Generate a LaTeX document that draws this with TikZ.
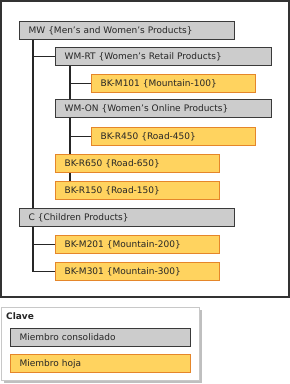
\documentclass[tikz,border=0pt]{standalone}
\usepackage{fontspec}
\setmainfont{DejaVu Sans}
\usetikzlibrary{backgrounds}
\definecolor{consfill}{HTML}{CCCCCC}
\definecolor{consdraw}{HTML}{3A3A3A}
\definecolor{leaffill}{HTML}{FFD35F}
\definecolor{leafdraw}{HTML}{E5862A}
\definecolor{frame}{HTML}{333333}
\definecolor{legdraw}{HTML}{C8C8C8}
\begin{document}
\begin{tikzpicture}[x=1pt,y=-1pt,
  every node/.style={font=\fontsize{9pt}{10pt}\selectfont, text=black!85},
  cons/.style={draw=consdraw, fill=consfill, line width=1.2pt, anchor=north west,
    minimum height=18pt, inner xsep=9pt, inner ysep=0pt, text width=#1, align=left},
  leaf/.style={draw=leafdraw, fill=leaffill, line width=1.2pt, anchor=north west,
    minimum height=18pt, inner xsep=9pt, inner ysep=0pt, text width=#1, align=left},
  conn/.style={draw=black!85, line width=1.4pt}]
\useasboundingbox (0,0) rectangle (290,384);
\draw[frame, line width=2pt] (1,1) rectangle (289,297);
\node[cons=197pt] (mw) at (19,21) {MW \{Men’s and Women’s Products\}};
\node[cons=198pt] (wmrt) at (55,47) {WM-RT \{Women’s Retail Products\}};
\node[leaf=146pt] (m101) at (91,74) {BK-M101 \{Mountain-100\}};
\node[cons=198pt] (wmon) at (55,99) {WM-ON \{Women’s Online Products\}};
\node[leaf=146pt] (r450) at (91,127) {BK-R450 \{Road-450\}};
\node[leaf=146pt] (r650) at (55,154) {BK-R650 \{Road-650\}};
\node[leaf=146pt] (r150) at (55,181) {BK-R150 \{Road-150\}};
\node[cons=197pt] (c) at (19,208) {C \{Children Products\}};
\node[leaf=146pt] (m201) at (55,235) {BK-M201 \{Mountain-200\}};
\node[leaf=146pt] (m301) at (55,262) {BK-M301 \{Mountain-300\}};
\coordinate (t1) at ([xshift=14pt]mw.south west);
\coordinate (t2) at ([xshift=15pt]wmrt.south west);
\begin{pgfonlayer}{background}
\draw[conn] (t1) |- (m301.west);
\draw[conn] (wmrt.west) -- (wmrt.west -| t1);
\draw[conn] (m201.west) -- (m201.west -| t1);
\draw[conn] (t2) -- (t2 |- r150.north);
\draw[conn] (m101.west) -- (m101.west -| t2);
\draw[conn] (r450.west) -- (r450.west -| t2);
\end{pgfonlayer}
% legend
\fill[black!25] (4,310) rectangle (202,383);
\draw[legdraw, fill=white, line width=1pt] (1,307) rectangle (199,380);
\node[anchor=west, font=\bfseries\fontsize{9pt}{10pt}\selectfont, inner sep=0pt] (clave) at (6,316) {Clave};
\node[cons=162pt] (kcons) at (10,328) {Miembro consolidado};
\node[leaf=162pt] (kleaf) at (10,354) {Miembro hoja};
\end{tikzpicture}
\end{document}
